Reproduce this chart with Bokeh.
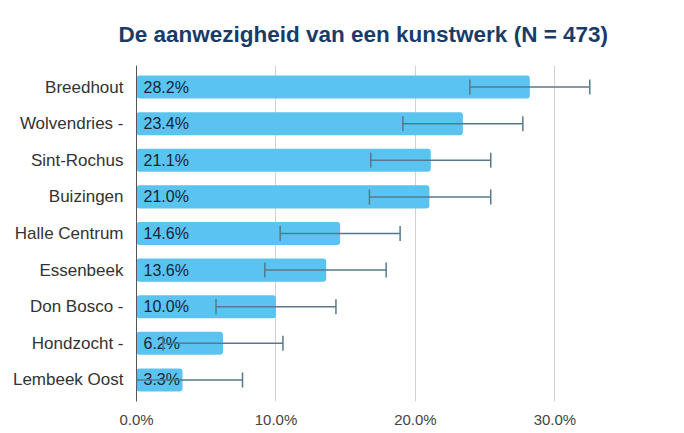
from bokeh.plotting import figure
from bokeh.models import ColumnDataSource, FactorRange, Range1d, Whisker, TeeHead, FixedTicker, CustomJSTickFormatter
from bokeh.core.properties import value
from bokeh.embed import file_html
from bokeh.resources import INLINE

title_text = "De aanwezigheid van een kunstwerk (N = 473)"
categories = ["Breedhout", "Wolvendries -", "Sint-Rochus", "Buizingen", "Halle Centrum",
              "Essenbeek", "Don Bosco -", "Hondzocht -", "Lembeek Oost"]
percent = [28.2, 23.4, 21.1, 21.0, 14.6, 13.6, 10.0, 6.2, 3.3]
ci_lower = [23.9, 19.1, 16.8, 16.7, 10.3, 9.2, 5.7, 1.9, 0.0]
ci_upper = [32.5, 27.7, 25.4, 25.4, 18.9, 17.9, 14.3, 10.5, 7.6]
x_ticks = [0, 10, 20, 30]
grid_ticks = [10, 20, 30]

src = ColumnDataSource(dict(
    cat=categories, val=percent, lo=ci_lower, hi=ci_upper,
    lbl=[f"{v:.1f}%" for v in percent], zero=[0] * len(categories),
))

p = figure(width=676, height=430, output_backend="svg", toolbar_location=None,
           y_range=FactorRange(*reversed(categories), range_padding=0.02),
           x_range=Range1d(0, 38.0),
           min_border_left=136, min_border_right=10, min_border_bottom=22, min_border_top=64,
           title=title_text)

p.title.align = "left"
p.title.text_font = "Liberation Sans"
p.title.text_font_style = "bold"
p.title.text_font_size = "22.5px"
p.title.text_color = "#183c6a"
p.title.offset = -18
p.title.standoff = 38

p.outline_line_color = None
p.background_fill_color = "white"

p.hbar(y="cat", right="val", left=0, height=0.63, source=src,
       fill_color="#5bc3f0", line_color=None, border_radius=3)

w = Whisker(base="cat", lower="lo", upper="hi", source=src, dimension="width",
            line_color="#557a8e", line_width=1.5, level="overlay",
            upper_head=TeeHead(size=15, line_color="#557a8e", line_width=1.5),
            lower_head=TeeHead(size=15, line_color="#557a8e", line_width=1.5))
p.add_layout(w)

p.text(x="zero", y="cat", text="lbl", source=src, x_offset=7,
       text_align="left", text_baseline="middle", text_font=value("Liberation Sans"),
       text_font_size="16px", text_color="#15263a", level="overlay")

p.xgrid.ticker = FixedTicker(ticks=grid_ticks)
p.xgrid.grid_line_color = "#d2d2d2"
p.xgrid.grid_line_width = 1
p.ygrid.grid_line_color = None

p.xaxis.ticker = FixedTicker(ticks=x_ticks)
p.xaxis.formatter = CustomJSTickFormatter(code="return tick.toFixed(1) + '%';")
p.xaxis.axis_line_color = None
p.xaxis.major_tick_line_color = None
p.xaxis.minor_tick_line_color = None
p.xaxis.major_label_standoff = 3
p.xaxis.major_label_text_font = "Liberation Sans"
p.xaxis.major_label_text_font_size = "15px"
p.xaxis.major_label_text_color = "#444444"

p.yaxis.axis_line_color = "#555555"
p.yaxis.axis_line_width = 1
p.yaxis.major_tick_line_color = None
p.yaxis.minor_tick_line_color = None
p.yaxis.major_label_standoff = 7
p.yaxis.major_label_text_font = "Liberation Sans"
p.yaxis.major_label_text_font_size = "17px"
p.yaxis.major_label_text_color = "#333333"

open("out.html", "w").write(file_html(p, INLINE))
